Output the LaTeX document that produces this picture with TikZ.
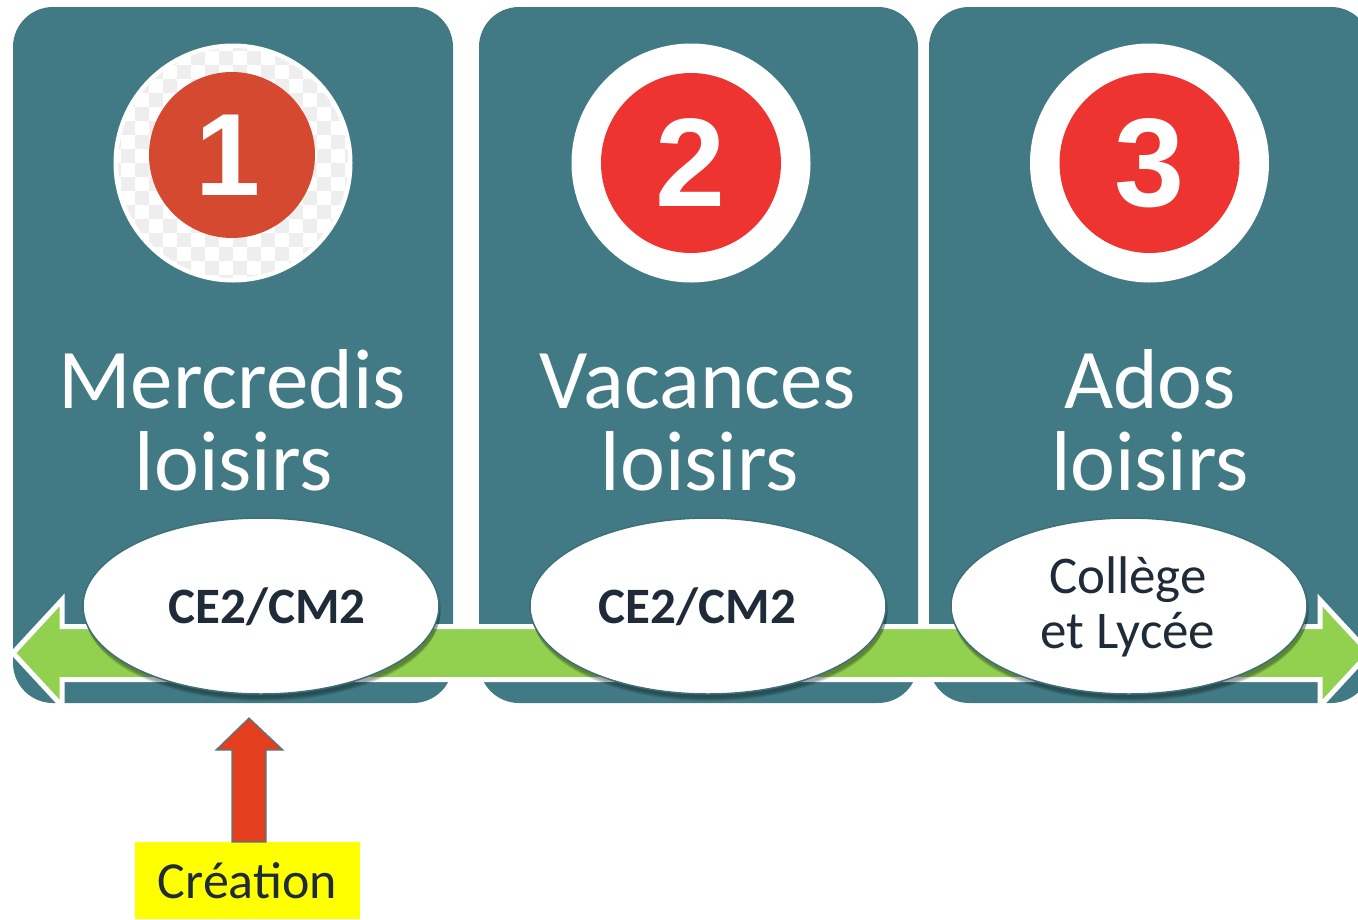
\documentclass[tikz,border=0pt]{standalone}
\usepackage{fontspec}
\setmainfont{Carlito}
\newfontfamily\digitfont{Liberation Sans}
\usetikzlibrary{shapes.geometric,calc}
\definecolor{tealbg}{HTML}{417A84}
\definecolor{greenarrow}{HTML}{92D050}
\definecolor{redcircle}{HTML}{EE3430}
\definecolor{redcircleA}{HTML}{D4492F}
\definecolor{redarrow}{HTML}{E33F1F}
\definecolor{arrowborder}{HTML}{4A7E88}
\definecolor{darktext}{HTML}{1F2B38}
\definecolor{checker}{HTML}{EEEEEE}
\definecolor{ellborder}{HTML}{3D7079}
\definecolor{labelyellow}{HTML}{FFFF00}
\tikzset{
  panel/.style={rectangle, fill=tealbg, rounded corners=40pt, inner sep=0pt, minimum width=#1, minimum height=696pt},
  ring/.style={circle, fill=white, inner sep=0pt, minimum size=239pt},
  badge/.style={circle, fill=redcircle, inner sep=0pt, minimum size=180pt, text=white, font=\digitfont\bfseries\fontsize{126}{126}\selectfont},
  title/.style={anchor=base, text=white, inner sep=0pt, font=\fontsize{85}{85}\selectfont},
  bubble/.style={ellipse, fill=white, draw=ellborder, line width=1.5pt, inner sep=0pt, minimum width=356pt, minimum height=176pt},
  bubbleshadow/.style={fill=black, opacity=0.10},
  bubbletext/.style={anchor=base, text=darktext, inner sep=0pt, font=\fontsize{53}{53}\selectfont},
  timeline/.style={fill=greenarrow, draw=white, line width=5pt, line join=miter},
  blockarrow/.style={fill=redarrow, draw=arrowborder, line width=1.2pt, line join=miter},
  tag/.style={rectangle, fill=labelyellow, inner sep=0pt, minimum width=225pt, minimum height=77pt, text height=35pt, text depth=0pt, text=darktext, font=\fontsize{52}{52}\selectfont}
}
\begin{document}
\begin{tikzpicture}[x=1pt,y=-1pt]
\useasboundingbox (0,0) rectangle (1358,919);
\clip (0,0) rectangle (1358,919);

% panels
\node[panel=440pt] (p1) at (233,355) {};
\node[panel=439pt] (p2) at (698.5,355) {};
\node[panel=442pt] (p3) at (1150,355) {};

% badge rings
\node[ring] (r1) at (233,163) {};
\begin{scope}
  \clip (233,163) circle [radius=115];
  \foreach \i in {0,...,17}{
    \foreach \j in {0,...,17}{
      \ifodd\numexpr\i+\j\relax
        \fill[checker] ({107+14*\i},{37+14*\j}) rectangle +(14,14);
      \fi
    }
  }
\end{scope}
\node[badge, fill=redcircleA, minimum size=166pt] (b1) at (232,155) {};
\node[text=white, inner sep=0pt, font=\digitfont\bfseries\fontsize{117}{117}\selectfont] (d1) at (228,155) {1};
\node[ring] (r2) at (691,163) {};
\node[badge] (b2) at (691,163) {2};
\node[ring] (r3) at (1149.5,163) {};
\node[badge] (b3) at (1149.5,163) {3};

% titles
\node[title] (t1a) at (232,408) {Mercredis};
\node[title] (t1b) at (234,490) {loisirs};
\node[title] (t2a) at (698,408) {Vacances};
\node[title] (t2b) at (700,490) {loisirs};
\node[title] (t3a) at (1150,408) {Ados};
\node[title] (t3b) at (1150,490) {loisirs};

% green double arrow (timeline)
\coordinate (tl) at (13,653);
\coordinate (tr) at (1369,653);
\path[timeline] (tl) -- ++(49,-53) -- ++(0,26.5) -- ($(tr)+(-49,-26.5)$) -- ++(0,-26.5) -- (tr)
  -- ++(-49,53) -- ++(0,-26.5) -- ($(tl)+(49,26.5)$) -- ++(0,26.5) -- cycle;

% bubble shadows
\foreach \cx in {261,708,1129}{
  \foreach \k in {1,...,4}{
    \fill[bubbleshadow] ({\cx+1.5},{606+2+1.5*\k}) ellipse [x radius={178+1-\k*0.5}, y radius={88+1-\k*0.5}];
  }
}

% bubbles
\node[bubble] (e1) at (261,606) {};
\node[bubble] (e2) at (708,606) {};
\node[bubble] (e3) at (1129,606) {};
\node[bubbletext, font=\bfseries\fontsize{51}{51}\selectfont] (l1) at (267,623) {CE2/CM2};
\node[bubbletext, font=\bfseries\fontsize{51}{51}\selectfont] (l2) at (697.5,623) {CE2/CM2};
\node[bubbletext] (l3a) at (1128,593) {Collège};
\node[bubbletext] (l3b) at (1128,648) {et Lycée};

% creation label and arrow
\node[tag] (cr) at (247.5,880.5) {Création};
\coordinate (tip) at (249,718);
\path[blockarrow] (tip) -- ++(34,32) -- ++(-17,0) -- (266,842) -- (232,842) -- (232,750) -- ++(-16,0) -- cycle;
\end{tikzpicture}
\end{document}
